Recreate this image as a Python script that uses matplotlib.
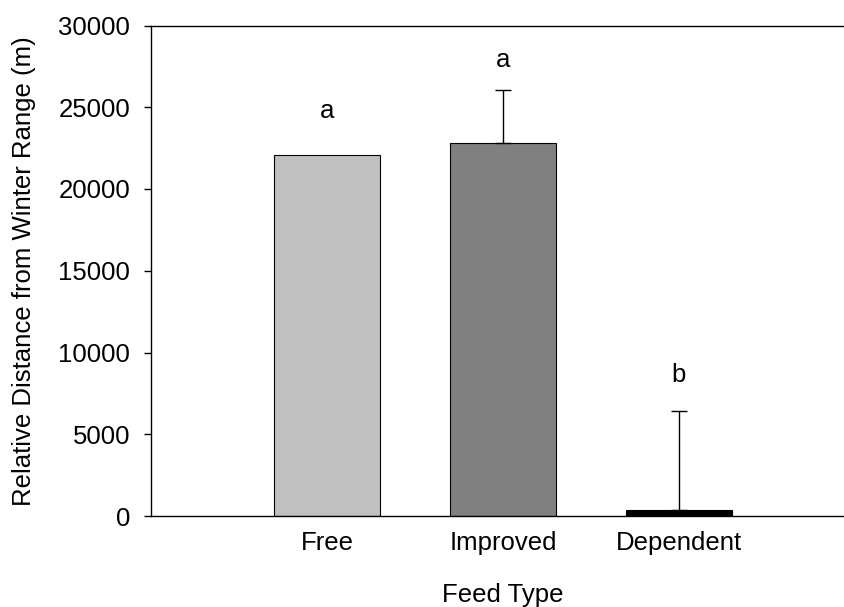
import matplotlib.pyplot as plt

plt.rcParams["font.family"] = ["Liberation Sans", "DejaVu Sans"]

feed_types = ["Free", "Improved", "Dependent"]
distance = [22050, 22810, 350]
upper_err = [0, 3240, 6070]
letters = ["a", "a", "b"]
letter_y = [24800, 27860, 8620]
colors = ["#c0c0c0", "#808080", "#000000"]

fig = plt.figure(figsize=(8.45, 6.07), dpi=100)
ax = fig.add_axes([151 / 845, 1 - 516 / 607, 704 / 845, 490.5 / 607])

x = [1, 2, 3]
ax.bar(x, distance, width=0.6, color=colors, edgecolor="black", linewidth=0.8, zorder=2)
for xi, d, e in zip(x, distance, upper_err):
    if e > 0:
        ax.errorbar(xi, d, yerr=[[0], [e]], fmt="none", ecolor="black",
                    elinewidth=1, capsize=5.5, capthick=1, zorder=3)
for xi, t, ly in zip(x, letters, letter_y):
    ax.text(xi, ly, t, ha="center", va="center", fontsize=18.5)

ax.set_xlim(0, 4)
ax.set_ylim(0, 30000)
ax.set_yticks(range(0, 30001, 5000))
ax.set_xticks(x)
ax.set_xticklabels(feed_types)
ax.tick_params(axis="x", length=0, pad=11, labelsize=18.5)
ax.tick_params(axis="y", length=5, width=1, direction="out", pad=10, labelsize=18.5)
ax.spines["right"].set_visible(False)
for s in ["left", "bottom", "top"]:
    ax.spines[s].set_linewidth(1)
ax.set_xlabel("Feed Type", fontsize=18.5, labelpad=20)
ax.set_ylabel("Relative Distance from Winter Range (m)", fontsize=18.5, labelpad=16)

fig.savefig("out.png", dpi=100)
